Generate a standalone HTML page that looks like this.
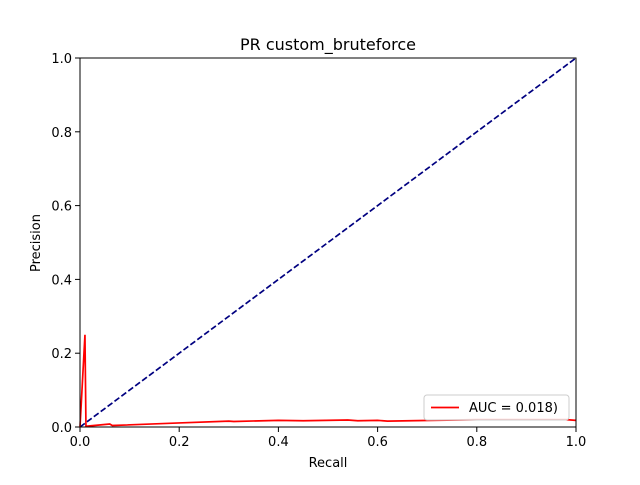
<!DOCTYPE html>
<html><head><meta charset="utf-8"><style>
body{margin:0;background:#fff}
svg{font-family:"DejaVu Sans","Liberation Sans",sans-serif}
</style></head><body>
<svg id="chart" width="640" height="480"></svg>
<script>
const recall=[0,0.01,0.012,0.06,0.065,0.2,0.3,0.31,0.4,0.45,0.54,0.56,0.6,0.62,0.8,0.98,1];
const precision=[0,0.25,0.002,0.008,0.004,0.011,0.016,0.015,0.018,0.017,0.019,0.017,0.018,0.016,0.02,0.02,0.018];
const diagX=[0,1];
const diagY=[0,1];
const ticks=[0,0.2,0.4,0.6,0.8,1.0];
const tickLabels=["0.0","0.2","0.4","0.6","0.8","1.0"];
const X0=80,X1=576,Y0=427,Y1=58;
const sx=v=>X0+v*(X1-X0), sy=v=>Y0-v*(Y0-Y1);
const svg=document.getElementById('chart');
const NS='http://www.w3.org/2000/svg';
function mk(t,a,txt){const e=document.createElementNS(NS,t);for(const k in a)e.setAttribute(k,a[k]);if(txt!==undefined)e.textContent=txt;svg.appendChild(e);return e;}
let e;
e=mk('rect',{x:X0,y:Y1,width:X1-X0,height:Y0-Y1,fill:'#fff'});


ticks.forEach((t,i)=>{
 e=mk('line',{x1:sx(t),x2:sx(t),y1:Y0,y2:Y0+5,stroke:'#000','stroke-width':1});
 
 
 e=mk('text',{x:sx(t),y:Y0+19,'font-size':13,'text-anchor':'middle'},tickLabels[i]);
 
 
 e=mk('line',{x1:X0-5,x2:X0,y1:sy(t),y2:sy(t),stroke:'#000','stroke-width':1});
 
 
 e=mk('text',{x:X0-8,y:sy(t)+5,'font-size':13,'text-anchor':'end'},tickLabels[i]);
 
 
});
e=mk('polyline',{points:diagX.map((v,i)=>sx(v)+','+sy(diagY[i])).join(' '),fill:'none',stroke:'#000080','stroke-width':1.7,'stroke-dasharray':'6,2.6'});


e=mk('polyline',{points:recall.map((v,i)=>sx(v)+','+sy(precision[i])).join(' '),fill:'none',stroke:'#ff0000','stroke-width':1.7});


e=mk('rect',{x:X0,y:Y1,width:X1-X0,height:Y0-Y1,fill:'none',stroke:'#000','stroke-width':1});


e=mk('text',{x:328,y:50,'font-size':16,'text-anchor':'middle'},'PR custom_bruteforce');


e=mk('text',{x:328,y:467,'font-size':13,'text-anchor':'middle'},'Recall');


e=mk('text',{x:40,y:243,'font-size':13,'text-anchor':'middle',transform:'rotate(-90 40 243)'},'Precision');


e=mk('rect',{x:424,y:395,width:145,height:25,rx:3,fill:'#fff','fill-opacity':0.8,stroke:'#ccc','stroke-width':1});


e=mk('line',{x1:431,x2:459,y1:407.5,y2:407.5,stroke:'#ff0000','stroke-width':1.7});


e=mk('text',{x:469,y:412,'font-size':13},'AUC = 0.018)');


</script>
</body></html>
